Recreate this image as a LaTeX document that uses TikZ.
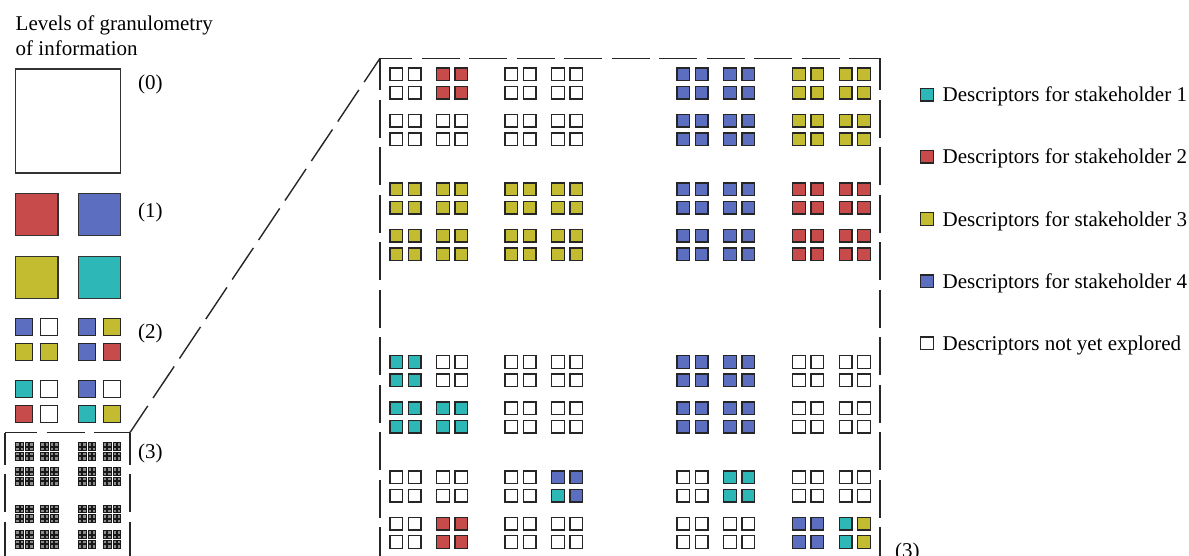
\documentclass[tikz,border=0pt]{standalone}
\usepackage{fontspec}
\setmainfont{Liberation Serif}
\definecolor{cR}{RGB}{200,75,75}
\definecolor{cB}{RGB}{92,110,192}
\definecolor{cY}{RGB}{195,187,48}
\definecolor{cT}{RGB}{45,183,183}
\begin{document}
\begin{tikzpicture}[x=1pt,y=-1pt,
  sq/.style={draw=black!85, line width=1.4pt},
  bsq/.style={draw=black!80, line width=1.3pt},
  frm/.style={draw=black!85, line width=1.4pt, dash pattern=on 38pt off 9.5pt, dash phase=6pt},
  tiny/.style={draw=black!90, fill=black!45, line width=0.9pt},
  lbl/.style={font=\fontsize{21}{25}\selectfont, inner sep=0pt, anchor=base west},
]
\useasboundingbox (0,0) rectangle (1189,555);
\clip (0,0) rectangle (1189,555);

% title
\node[lbl] (title1) at (15.5,30) {Levels of granulometry};
\node[lbl] (title2) at (15.5,55) {of information};

% level 0
\draw[bsq, fill=white] (15.7,69) rectangle (120.7,173);
\node[lbl] (lab0) at (138,89) {(0)};

% level 1
\draw[bsq, fill=cR] (15.7,193.3) rectangle ++(42.2,42.5);
\draw[bsq, fill=cB] (78.3,193.3) rectangle ++(42.4,42.5);
\draw[bsq, fill=cY] (15.7,256.7) rectangle ++(42.2,41.8);
\draw[bsq, fill=cT] (78.3,256.7) rectangle ++(42.4,41.8);
\node[lbl] (lab1) at (138,217.5) {(1)};

% level 2
\foreach \y/\cols in {318.3/{cB,white,cB,cY}, 343.3/{cY,cY,cB,cR}, 380.7/{cT,white,cB,white}, 405.7/{cR,white,cT,cY}}
  \foreach \c [count=\i from 0] in \cols {
    \pgfmathsetmacro\xx{{15.7,40.7,78.3,103.3}[\i]}
    \draw[sq, fill=\c] (\xx,\y) rectangle ++(17,17);
  }
\node[lbl] (lab2) at (138,338) {(2)};

% level 3 icon
\foreach \y in {442.7,467.7,505,530.7}
 \foreach \x in {15.7,40.7,78.3,103.3}
  \foreach \u in {0,9.7}
   \foreach \v in {0,9.7}
    \foreach \s in {0,4.4}
     \foreach \t in {0,4.4}
      \draw[tiny] (\x+\u+\s,\y+\v+\t) rectangle ++(3.5,3.5);
\node[lbl] (lab3) at (138,458) {(3)};

% frames and zoom connector
\coordinate (smallTL) at (5,432.5);
\coordinate (smallTR) at (130,432.5);
\coordinate (bigTL) at (380,58.3);
\coordinate (bigTR) at (880,58.3);
\draw[frm] (smallTL) -- (5,600);
\draw[frm] (smallTL) -- (smallTR);
\draw[frm] (smallTR) -- (130,600);
\draw[frm] (smallTR) -- (bigTL);
\draw[frm] (bigTL) -- (380,600);
\draw[frm] (bigTL) -- (bigTR);
\draw[frm] (bigTR) -- (880,600);

% big level-3 grid
\foreach \y/\cols in {68/{white,cR,white,white,cB,cB,cY,cY}, 114.5/{white,white,white,white,cB,cB,cY,cY}, 183/{cY,cY,cY,cY,cB,cB,cR,cR}, 229.5/{cY,cY,cY,cY,cB,cB,cR,cR}, 355.7/{cT,white,white,white,cB,cB,white,white}, 402/{cT,cT,white,white,cB,cB,white,white}, 471/{white,white,white,cB,white,cT,white,white}, 517.3/{white,cR,white,white,white,white,cB,cT}}
  \foreach \c [count=\i from 0] in \cols {
    \pgfmathsetmacro\xx{{390,436.7,505,551.7,677,723.7,792.7,839.3}[\i]}
    \foreach \u in {0,18.4}
      \foreach \v in {0,18.4}
        \draw[sq, fill=\c] (\xx+\u,\y+\v) rectangle ++(12.5,12.5);
  }
\draw[sq, fill=cT] (551.7,471+18.4) rectangle ++(12.5,12.5);
\draw[sq, fill=cY] (839.3+18.4,517.3) rectangle ++(12.5,12.5);
\draw[sq, fill=cY] (839.3+18.4,517.3+18.4) rectangle ++(12.5,12.5);
\node[lbl] (lab3big) at (895,557) {(3)};

% legend
\foreach \c/\t [count=\i from 0] in {cT/Descriptors for stakeholder 1, cR/Descriptors for stakeholder 2, cY/Descriptors for stakeholder 3, cB/Descriptors for stakeholder 4, white/Descriptors not yet explored} {
  \draw[sq, fill=\c] (920.7,88.3+62.2*\i) rectangle ++(12.5,12.5);
  \node[lbl] (leg\i) at (942.5,101.7+62.2*\i) {\t};
}
\end{tikzpicture}
\end{document}
